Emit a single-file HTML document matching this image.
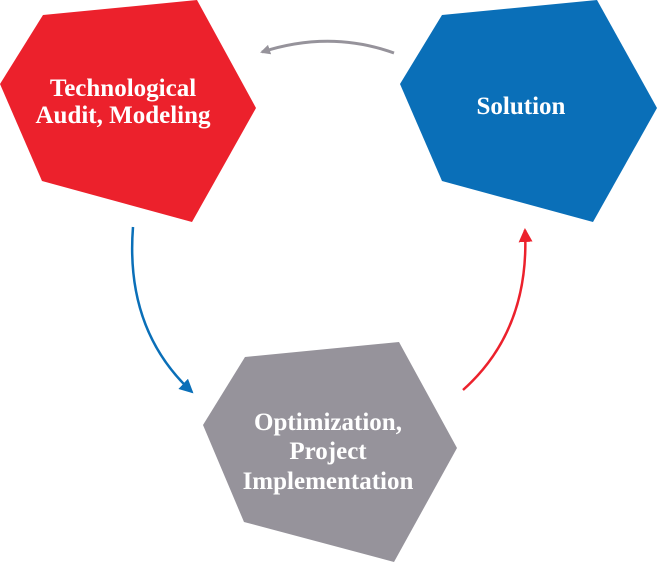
<!DOCTYPE html>
<html><head><style>
html,body{margin:0;padding:0;background:#fff;}
svg{display:block;}
text{font-family:"Liberation Serif",serif;font-weight:bold;fill:#fff;font-size:25px;text-anchor:middle;}
</style></head><body>
<svg width="657" height="563" viewBox="0 0 657 563">
<defs>
<marker id="ag" markerWidth="10" markerHeight="10" refX="8" refY="5" orient="auto" markerUnits="userSpaceOnUse"><path d="M0,0 L10,5 L0,10 Z" fill="#96939b"/></marker>
<marker id="ab" markerWidth="14" markerHeight="14" refX="12" refY="7" orient="auto" markerUnits="userSpaceOnUse"><path d="M0,0 L14,7 L0,14 Z" fill="#0a6fb8"/></marker>
<marker id="ar" markerWidth="14" markerHeight="14" refX="12" refY="7" orient="auto" markerUnits="userSpaceOnUse"><path d="M0,0 L14,7 L0,14 Z" fill="#ec212c"/></marker>
</defs>
<polygon points="43,15 197,0 256,108 192,222 42,181 0,84" fill="#ec212c"/>
<polygon points="442,15 597,0 657,108 593,222 442,181 400,84" fill="#0a6fb8"/>
<polygon points="245,357 399,342 457,448 394,562 244,522 203,425" fill="#96939b"/>
<path d="M394,53 Q330,30 262,52" fill="none" stroke="#96939b" stroke-width="3" marker-end="url(#ag)"/>
<path d="M133,227 Q125,330 192,392" fill="none" stroke="#0a6fb8" stroke-width="2.5" marker-end="url(#ab)"/>
<path d="M463,390 Q530,330 525,230" fill="none" stroke="#ec212c" stroke-width="2.5" marker-end="url(#ar)"/>
<text x="123" y="96">Technological</text>
<text x="123" y="123">Audit, Modeling</text>
<text x="521" y="114">Solution</text>
<text x="328" y="430">Optimization,</text>
<text x="328" y="459">Project</text>
<text x="328" y="489">Implementation</text>
</svg>
</body></html>
